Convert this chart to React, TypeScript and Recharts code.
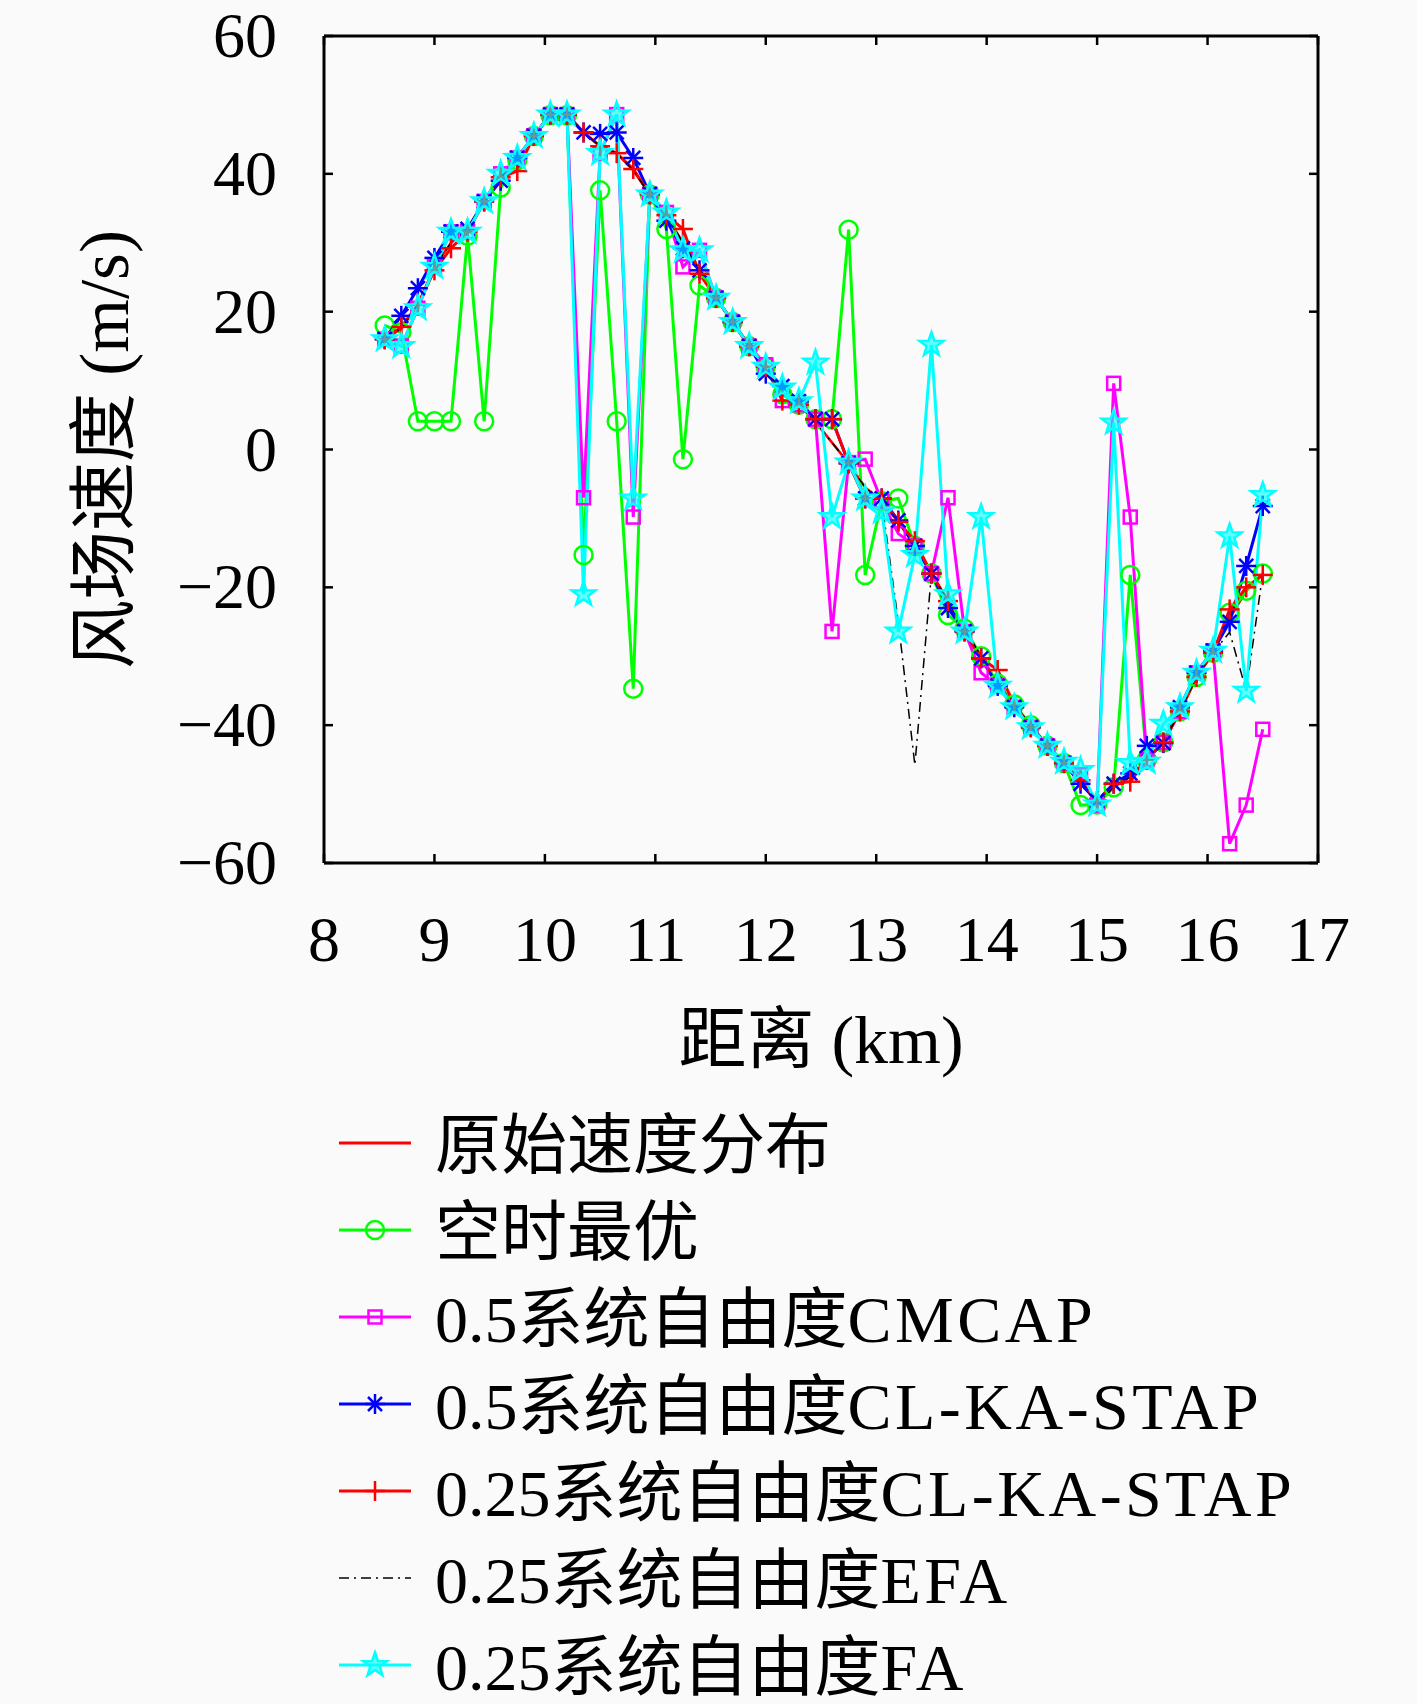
import React from 'react';
import { LineChart, Line, XAxis, YAxis } from 'recharts';

// distance (km), one sample every 0.15 km
const distance = [
  8.55, 8.7, 8.85, 9.0, 9.15, 9.3, 9.45, 9.6, 9.75, 9.9, 10.05, 10.2, 10.35, 10.5, 10.65, 10.8, 10.95, 11.1,
  11.25, 11.4, 11.55, 11.7, 11.85, 12.0, 12.15, 12.3, 12.45, 12.6, 12.75, 12.9, 13.05, 13.2, 13.35, 13.5,
  13.65, 13.8, 13.95, 14.1, 14.25, 14.4, 14.55, 14.7, 14.85, 15.0, 15.15, 15.3, 15.45, 15.6, 15.75, 15.9,
  16.05, 16.2, 16.35, 16.5,
];

// 原始速度分布
const original = [
  16, 17.5, 21, 26.5, 30, 32, 36, 39.5, 42, 45.5, 48.5, 48.5, 46, 44, 43, 40.5, 37, 34,
  30, 26, 22, 18.5, 15, 12, 8, 6.5, 4, 1, -2, -5.5, -7.5, -10.5, -14, -18,
  -22, -26, -30, -34, -37, -40, -43, -45.5, -48, -51.5, -49, -47.5, -45, -42.5, -38, -33,
  -29.5, -24.5, -20.5, -18,
];

// 空时最优
const spaceTime = [
  18, 17, 4.1, 4.1, 4.1, 31, 4.1, 38, 42, 45.5, 48.5, 48.5, -15.3, 37.6, 4.1, -34.7, 37, 32,
  -1.4, 23.8, 22, 18.5, 15, 12, 8, 6.5, 4.4, 4.4, 31.9, -18.2, -7.5, -7.1, -14, -18,
  -24, -26, -30, -34, -37, -40, -43, -45.5, -51.6, -51.5, -49, -18.2, -45, -42.5, -38, -33,
  -29.5, -23.7, -20.5, -18,
];

// 0.5系统自由度CMCAP
const cmcap05 = [
  16, 15, 20.5, 26.5, 31.6, 31.6, 36, 40, 42.3, 45.5, 48.6, 48.6, -7, 43, 48.6, -9.8, 37, 34.4,
  26.5, 28.9, 22, 18.5, 15, 12.3, 7.1, 6.5, 4.4, -26.4, -1.9, -1.4, -7.5, -12.2, -14, -18,
  -7, -26.4, -32.4, -34.3, -37.4, -40.3, -43, -45.5, -47.2, -51.6, 9.6, -9.8, -45, -42.5, -38, -32.4,
  -29.2, -57.2, -51.6, -40.6,
];

// 0.5系统自由度CL-KA-STAP
const clka05 = [
  16, 19.4, 23.4, 27.8, 31.6, 32, 36, 39, 42.3, 45.5, 48.6, 48.6, 46, 45.8, 46, 42.3, 37.1, 33.2,
  29.2, 26, 22, 18.5, 15, 11, 9.2, 7, 4.4, 4.4, -2, -7.1, -7.1, -10.3, -14, -18,
  -23, -26.4, -30.3, -34.3, -37.4, -40.3, -43, -45.5, -48.5, -51, -48.5, -47, -43, -42.6, -37.4, -32.4,
  -29.2, -25, -16.9, -8.2,
];

// 0.25系统自由度CL-KA-STAP
const clka025 = [
  16, 17.8, 21, 26, 29.2, 31.6, 36, 39.5, 40.4, 45.5, 48.6, 48.6, 46, 44, 43, 40.7, 37, 34,
  32, 25.5, 22, 18.5, 15, 12, 7.1, 6.5, 4.4, 4.4, -2, -7.1, -7.1, -10.5, -13.3, -18,
  -22, -26.4, -30.3, -32, -37, -40.3, -43, -45.5, -48, -51, -48.5, -48.2, -45, -42.5, -38, -33,
  -29.5, -23.2, -20, -18.2,
];

// 0.25系统自由度EFA
const efa025 = [
  16, 17.5, 21, 26.5, 30, 32, 36, 39.5, 42, 45.5, 48.5, 48.5, 46, 44, 43, 40.5, 37, 34,
  30, 26, 22, 18.5, 15, 12, 8, 6.5, 4, 1, -2, -5.5, -7.5, -25, -45.8, -18,
  -22, -26, -30, -34, -37, -40, -43, -45.5, -48, -51.5, -49, -47.5, -45, -42.5, -38, -33,
  -29.5, -26.5, -35, -18,
];

// 0.25系统自由度FA
const fa025 = [
  16, 15, 20.5, 26.5, 31.6, 31.6, 36, 40, 42.3, 45.5, 48.6, 48.6, -21, 43, 48.6, -7.1, 37, 34.4,
  28.9, 28.9, 22, 18.5, 15, 12, 9, 7, 12.6, -9.8, -1.9, -7.1, -9, -26.4, -15.3, 15.2,
  -21, -26.4, -9.8, -34.3, -37.4, -40.3, -43, -45.3, -46.5, -51.5, 3.9, -45.5, -45.3, -39.8, -37.4, -32.4,
  -29.2, -12.6, -35, -6.6,
];

const xTicks = [8, 9, 10, 11, 12, 13, 14, 15, 16, 17];
const yTicks = [-60, -40, -20, 0, 20, 40, 60];

const legendLabels = [
  '原始速度分布',
  '空时最优',
  '0.5系统自由度CMCAP',
  '0.5系统自由度CL-KA-STAP',
  '0.25系统自由度CL-KA-STAP',
  '0.25系统自由度EFA',
  '0.25系统自由度FA',
];

const data = distance.map((x, i) => ({
  x,
  original: original[i],
  spaceTime: spaceTime[i],
  cmcap05: cmcap05[i],
  clka05: clka05[i],
  clka025: clka025[i],
  efa025: efa025[i],
  fa025: fa025[i],
}));

const serif = '"Liberation Serif", "Times New Roman", "Noto Sans CJK SC", serif';
const RED = '#ff0000';
const GREEN = '#00ff00';
const MAGENTA = '#ff00ff';
const BLUE = '#0000ff';
const CYAN = '#00ffff';
const TICK = 9;

// --- markers (MATLAB-like) ---
function CircleMark({ cx, cy }: any) {
  return <circle cx={cx} cy={cy} r={9} fill="none" stroke={GREEN} strokeWidth={2.5} />;
}
function SquareMark({ cx, cy }: any) {
  return <rect x={cx - 6.5} y={cy - 6.5} width={13} height={13} fill="none" stroke={MAGENTA} strokeWidth={2.5} />;
}
function AsteriskMark({ cx, cy }: any) {
  const s = 10, d = 7;
  return (
    <g stroke={BLUE} strokeWidth={2.5}>
      <line x1={cx - s} y1={cy} x2={cx + s} y2={cy} />
      <line x1={cx} y1={cy - s} x2={cx} y2={cy + s} />
      <line x1={cx - d} y1={cy - d} x2={cx + d} y2={cy + d} />
      <line x1={cx - d} y1={cy + d} x2={cx + d} y2={cy - d} />
    </g>
  );
}
function PlusMark({ cx, cy }: any) {
  const s = 10;
  return (
    <g stroke={RED} strokeWidth={2.5}>
      <line x1={cx - s} y1={cy} x2={cx + s} y2={cy} />
      <line x1={cx} y1={cy - s} x2={cx} y2={cy + s} />
    </g>
  );
}
function StarMark({ cx, cy }: any) {
  const pts: string[] = [];
  for (let k = 0; k < 10; k++) {
    const r = k % 2 === 0 ? 12.5 : 5;
    const a = -Math.PI / 2 + (k * Math.PI) / 5;
    pts.push(`${cx + r * Math.cos(a)},${cy + r * Math.sin(a)}`);
  }
  return <polygon points={pts.join(' ')} fill={CYAN} fillOpacity={0.6} stroke={CYAN} strokeWidth={2.5} strokeLinejoin="miter" />;
}

const dotOf = (Mark: any, name: string) => (p: any) => <Mark key={`${name}-${p.index}`} cx={p.cx} cy={p.cy} />;

// --- ticks, pointing inward ---
const fmt = (v: number) => (v < 0 ? '\u2212' + Math.abs(v) : String(v));

function BottomTick({ x, y, payload }: any) {
  return (
    <g>
      <line x1={x} y1={y} x2={x} y2={y - TICK} stroke="#000" strokeWidth={2.5} />
      <text x={x} y={y + 98} textAnchor="middle" fontSize={64} fontFamily={serif} fill="#000">
        {payload.value}
      </text>
    </g>
  );
}
function TopTick({ x, y }: any) {
  return <line x1={x} y1={y} x2={x} y2={y + TICK} stroke="#000" strokeWidth={2.5} />;
}
function LeftTick({ x, y, payload }: any) {
  return (
    <g>
      <line x1={x} y1={y} x2={x + TICK} y2={y} stroke="#000" strokeWidth={2.5} />
      <text x={x - 47} y={y + 21} textAnchor="end" fontSize={64} fontFamily={serif} fill="#000">
        {fmt(payload.value)}
      </text>
    </g>
  );
}
function RightTick({ x, y }: any) {
  return <line x1={x} y1={y} x2={x - TICK} y2={y} stroke="#000" strokeWidth={2.5} />;
}

// latin capitals in the original are set wider (Computer Modern) than Times
function LegendText({ label, x, y }: { label: string; x: number; y: number }) {
  const runs = label.split(/([A-Z][A-Z-]*)/).filter((r) => r.length > 0);
  return (
    <text x={x} y={y} fontSize={66} fontFamily={serif} fill="#000">
      {runs.map((r, i) => (
        <tspan key={i} letterSpacing={/[A-Z]/.test(r) ? 3.5 : 0}>
          {r}
        </tspan>
      ))}
    </text>
  );
}

function LegendBox() {
  const rowY = (i: number) => 1143 + i * 87;
  const marks = [null, CircleMark, SquareMark, AsteriskMark, PlusMark, null, StarMark];
  const colors = [RED, GREEN, MAGENTA, BLUE, RED, '#000', CYAN];
  return (
    <svg width={1417} height={1704} style={{ position: 'absolute', left: 0, top: 0, pointerEvents: 'none' }}>
      {legendLabels.map((label, i) => {
        const Mark = marks[i];
        const y = rowY(i);
        return (
          <g key={label}>
            <line
              x1={339}
              y1={y}
              x2={411}
              y2={y}
              stroke={colors[i]}
              strokeWidth={i === 5 ? 1.5 : 3}
              strokeDasharray={i === 5 ? '10 5 2 5' : undefined}
            />
            {Mark && <Mark cx={375} cy={y} />}
            <LegendText label={label} x={435} y={y + 25} />
          </g>
        );
      })}
    </svg>
  );
}

export default function App() {
  return (
    <div style={{ position: 'absolute', left: 0, top: 0, width: 1417, height: 1704, background: '#fafafa' }}>
      <LineChart width={1417} height={1704} data={data} margin={{ top: 35, right: 98, bottom: 641, left: 0 }}>
        <XAxis
          xAxisId="bottom"
          dataKey="x"
          type="number"
          domain={[8, 17]}
          ticks={xTicks}
          interval={0}
          allowDataOverflow
          height={200}
          tickSize={0}
          tickMargin={0}
          tick={<BottomTick />}
          axisLine={{ stroke: '#000', strokeWidth: 3 }}
          label={(p: any) => {
            const vb = p.viewBox || { x: 324, y: 863, width: 994 };
            return (
              <text x={vb.x + vb.width / 2} y={vb.y + 200} textAnchor="middle" fontSize={68} fontFamily={serif} fill="#000">
                距离 (km)
              </text>
            );
          }}
        />
        <XAxis
          xAxisId="top"
          orientation="top"
          dataKey="x"
          type="number"
          domain={[8, 17]}
          ticks={xTicks}
          interval={0}
          allowDataOverflow
          height={1}
          tickSize={0}
          tickMargin={0}
          tick={<TopTick />}
          axisLine={{ stroke: '#000', strokeWidth: 3 }}
        />
        <YAxis
          yAxisId="left"
          type="number"
          domain={[-60, 60]}
          ticks={yTicks}
          interval={0}
          allowDataOverflow
          width={324}
          tickSize={0}
          tickMargin={0}
          tick={<LeftTick />}
          axisLine={{ stroke: '#000', strokeWidth: 3 }}
          label={(p: any) => {
            const vb = p.viewBox || { x: 0, y: 36, height: 827 };
            const cy = vb.y + vb.height / 2;
            return (
              <text
                x={128}
                y={cy}
                transform={`rotate(-90, 128, ${cy})`}
                textAnchor="middle"
                fontSize={69}
                fontFamily={serif}
                fill="#000"
              >
                风场速度 (m/s)
              </text>
            );
          }}
        />
        <YAxis
          yAxisId="right"
          orientation="right"
          type="number"
          domain={[-60, 60]}
          ticks={yTicks}
          interval={0}
          allowDataOverflow
          width={1}
          tickSize={0}
          tickMargin={0}
          tick={<RightTick />}
          axisLine={{ stroke: '#000', strokeWidth: 3 }}
        />

        <Line xAxisId="bottom" yAxisId="left" type="linear" dataKey="original" stroke={RED} strokeWidth={2.5} dot={false} activeDot={false} isAnimationActive={false} />
        <Line xAxisId="bottom" yAxisId="left" type="linear" dataKey="spaceTime" stroke={GREEN} strokeWidth={3} dot={dotOf(CircleMark, 'g')} activeDot={false} isAnimationActive={false} />
        <Line xAxisId="bottom" yAxisId="left" type="linear" dataKey="cmcap05" stroke={MAGENTA} strokeWidth={3} dot={dotOf(SquareMark, 'm')} activeDot={false} isAnimationActive={false} />
        <Line xAxisId="bottom" yAxisId="left" type="linear" dataKey="clka05" stroke={BLUE} strokeWidth={3} dot={dotOf(AsteriskMark, 'b')} activeDot={false} isAnimationActive={false} />
        <Line xAxisId="bottom" yAxisId="left" type="linear" dataKey="clka025" stroke={RED} strokeWidth={3} dot={dotOf(PlusMark, 'r')} activeDot={false} isAnimationActive={false} />
        <Line xAxisId="bottom" yAxisId="left" type="linear" dataKey="efa025" stroke="#000" strokeWidth={1.5} strokeDasharray="10 5 2 5" dot={false} activeDot={false} isAnimationActive={false} />
        <Line xAxisId="bottom" yAxisId="left" type="linear" dataKey="fa025" stroke={CYAN} strokeWidth={3} dot={dotOf(StarMark, 'c')} activeDot={false} isAnimationActive={false} />
      </LineChart>
      <LegendBox />
    </div>
  );
}
